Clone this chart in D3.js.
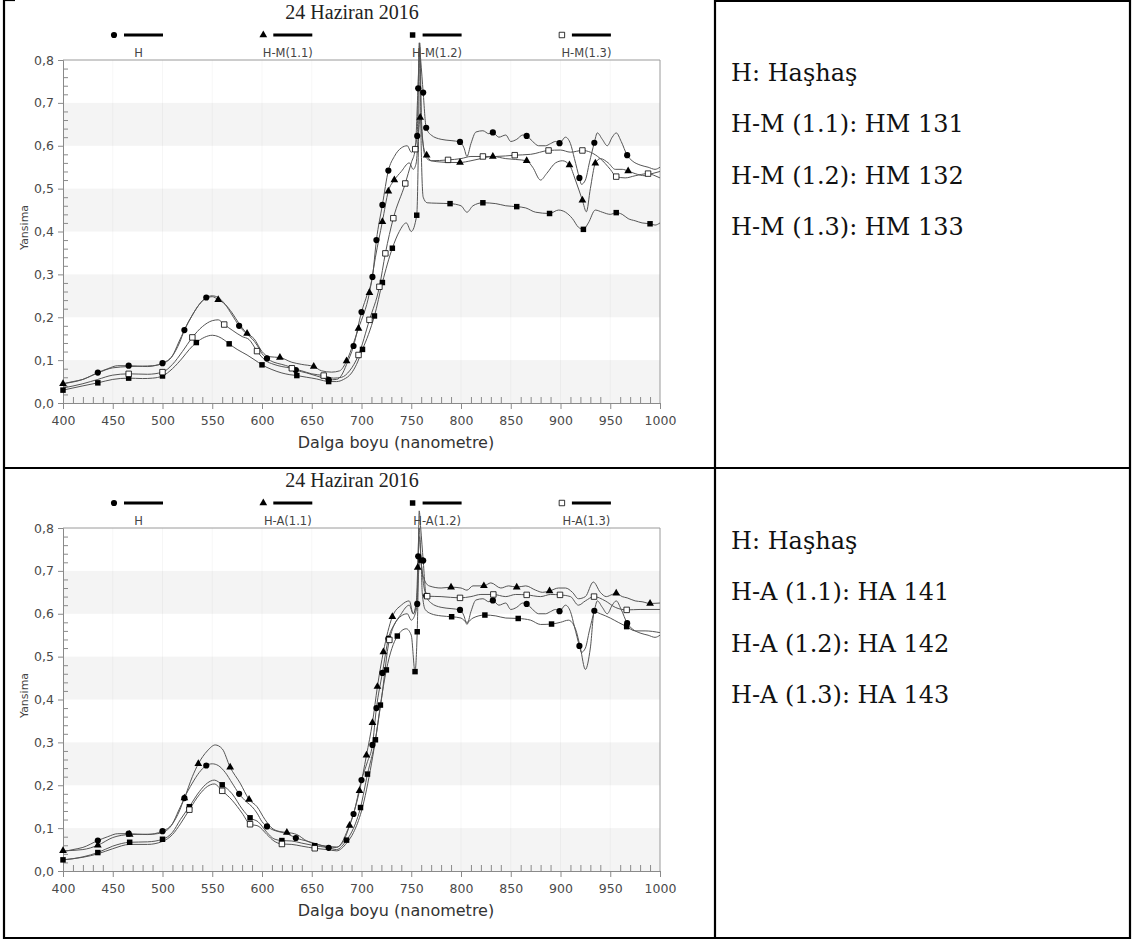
<!DOCTYPE html>
<html lang="tr">
<head>
<meta charset="UTF-8">
<title>24 Haziran 2016 - Yansima</title>
<style>
  body { margin: 0; background: #fff; }
  svg { display: block; }
</style>
</head>
<body>
<script src="https://cdn.jsdelivr.net/npm/d3@7"></script>
<div id="app"></div>
<script>
// ---- veri: [dalga boyu (nm), yansima] ----
const seriesH = [[400,0.045],[410,0.05],[420,0.055],[435,0.071],[445,0.08],[455,0.087],[466,0.087],[475,0.086],[485,0.085],[492,0.087],[500,0.093],[510,0.11],[517,0.14],[522,0.17],[530,0.205],[537,0.23],[544,0.246],[550,0.25],[556,0.246],[563,0.23],[570,0.205],[577,0.18],[585,0.16],[590,0.15],[595,0.135],[600,0.115],[605,0.104],[612,0.095],[620,0.09],[627,0.085],[634,0.077],[645,0.07],[655,0.063],[662,0.058],[667,0.054],[675,0.055],[680,0.065],[685,0.09],[692,0.133],[700,0.212],[706,0.255],[711,0.294],[715,0.38],[721,0.462],[727,0.542],[733,0.575],[740,0.595],[746,0.6],[750,0.585],[754,0.6],[756,0.623],[757,0.734],[758,0.84],[759.5,0.8],[762,0.724],[765,0.642],[770,0.625],[780,0.615],[790,0.612],[799,0.609],[803,0.595],[806,0.575],[810,0.605],[815,0.632],[822,0.635],[828,0.628],[832,0.631],[838,0.62],[845,0.625],[850,0.61],[856,0.615],[862,0.625],[866,0.623],[872,0.61],[878,0.6],[885,0.6],[890,0.605],[895,0.61],[899,0.606],[905,0.62],[910,0.605],[914,0.57],[919,0.525],[921,0.51],[925,0.52],[929,0.56],[934,0.607],[937,0.63],[942,0.615],[947,0.6],[952,0.62],[956,0.63],[961,0.61],[967,0.578],[972,0.565],[980,0.555],[988,0.55],[995,0.545],[1000,0.55]];
const marksH = [435,466,500,522,544,577,605,634,667,692,700,711,715,721,727,756,757,762,765,799,832,866,899,919,934,967];

const seriesHM11 = [[400,0.045],[420,0.055],[435,0.07],[450,0.082],[466,0.085],[480,0.086],[490,0.087],[500,0.092],[510,0.11],[516,0.14],[522,0.17],[530,0.205],[537,0.23],[544,0.245],[550,0.248],[556,0.241],[563,0.23],[570,0.21],[577,0.185],[585,0.162],[592,0.15],[600,0.12],[607,0.108],[618,0.106],[630,0.095],[640,0.09],[652,0.085],[660,0.075],[670,0.072],[678,0.075],[685,0.098],[692,0.14],[697,0.174],[708,0.257],[714,0.34],[721,0.423],[727,0.494],[733,0.52],[740,0.54],[748,0.56],[752,0.545],[755,0.56],[757,0.62],[759,0.666],[761,0.62],[763,0.59],[765.5,0.578],[770,0.565],[780,0.562],[790,0.561],[799,0.561],[810,0.565],[820,0.57],[832,0.575],[845,0.57],[855,0.568],[866,0.565],[872,0.55],[880,0.52],[886,0.535],[895,0.56],[902,0.565],[909,0.555],[915,0.52],[922,0.473],[926,0.446],[930,0.5],[935,0.559],[940,0.57],[948,0.56],[955,0.545],[962,0.545],[968,0.541],[975,0.535],[985,0.53],[992,0.535],[1000,0.54]];
const marksHM11 = [400,556,585,618,652,685,697,708,721,727,733,759,765.5,799,832,866,909,922,935,968];

const seriesHM12 = [[400,0.03],[410,0.035],[420,0.04],[435,0.047],[450,0.055],[466,0.058],[480,0.057],[490,0.058],[500,0.063],[510,0.08],[520,0.105],[527,0.125],[534,0.141],[542,0.153],[550,0.158],[556,0.155],[562,0.147],[567,0.138],[575,0.125],[585,0.112],[593,0.1],[600,0.089],[610,0.078],[620,0.07],[628,0.066],[635,0.064],[645,0.06],[655,0.056],[662,0.052],[667,0.05],[675,0.05],[682,0.055],[690,0.07],[695,0.09],[701,0.125],[707,0.16],[713,0.203],[721,0.281],[731,0.361],[738,0.4],[745,0.42],[750,0.4],[755.5,0.438],[757.5,0.65],[758.5,0.84],[760,0.6],[762,0.48],[766,0.467],[775,0.466],[789,0.465],[800,0.46],[806,0.445],[812,0.46],[822,0.467],[835,0.465],[845,0.46],[856,0.458],[865,0.455],[875,0.445],[889,0.442],[898,0.45],[905,0.445],[912,0.43],[918,0.41],[923,0.405],[928,0.42],[935,0.45],[942,0.445],[950,0.44],[956,0.444],[962,0.44],[968,0.43],[975,0.425],[982,0.42],[990,0.418],[995,0.415],[1000,0.42]];
const marksHM12 = [400,435,466,500,534,567,600,635,667,701,713,721,731,755.5,789,822,856,889,923,956,990];

const seriesHM13 = [[400,0.035],[420,0.045],[435,0.055],[450,0.065],[466,0.068],[485,0.067],[500,0.072],[510,0.09],[520,0.12],[530,0.153],[540,0.178],[550,0.192],[556,0.194],[562,0.183],[570,0.17],[580,0.155],[587,0.148],[595,0.121],[603,0.1],[612,0.09],[620,0.085],[630,0.081],[640,0.075],[650,0.068],[662,0.064],[672,0.058],[680,0.06],[688,0.075],[697,0.112],[708,0.194],[718,0.271],[724,0.349],[732,0.431],[744,0.512],[750,0.56],[754,0.592],[757,0.75],[758.5,0.83],[760.5,0.65],[764,0.575],[770,0.565],[787,0.567],[800,0.57],[810,0.575],[822,0.575],[835,0.575],[854,0.578],[870,0.58],[888,0.589],[900,0.59],[910,0.585],[922,0.589],[930,0.585],[940,0.57],[950,0.545],[956,0.528],[965,0.525],[975,0.53],[988,0.535],[995,0.53],[1000,0.525]];
const marksHM13 = [466,500,530,562,595,630,662,697,708,718,724,732,744,754,787,822,854,888,922,956,988];

const seriesHA11 = [[400,0.047],[420,0.05],[435,0.06],[450,0.078],[467,0.085],[490,0.086],[500,0.09],[510,0.11],[516,0.14],[522,0.17],[530,0.22],[536,0.25],[545,0.28],[553,0.294],[560,0.285],[568,0.242],[578,0.205],[587,0.167],[595,0.15],[603,0.12],[610,0.1],[618,0.092],[625,0.09],[635,0.085],[645,0.07],[655,0.062],[665,0.058],[675,0.056],[682,0.07],[688,0.106],[698,0.187],[705,0.27],[711,0.346],[716,0.43],[722,0.511],[731,0.593],[740,0.62],[748,0.63],[752,0.6],[755,0.62],[756.5,0.708],[758,0.8],[760,0.72],[763,0.68],[768,0.665],[780,0.66],[790,0.662],[800,0.66],[806,0.655],[812,0.665],[823,0.665],[830,0.672],[840,0.66],[848,0.665],[856,0.662],[865,0.665],[875,0.655],[882,0.65],[889,0.653],[898,0.66],[905,0.66],[912,0.65],[918,0.635],[925,0.64],[933,0.674],[940,0.65],[946,0.64],[952,0.645],[956,0.648],[962,0.64],[967,0.637],[975,0.63],[982,0.628],[990,0.624],[1000,0.625]];
const marksHA11 = [400,435,467,522,536,568,587,625,688,698,705,711,716,722,731,756.5,790,823,856,889,956,990];

const seriesHA12 = [[400,0.026],[420,0.033],[435,0.043],[450,0.058],[467,0.067],[485,0.068],[500,0.074],[510,0.09],[518,0.12],[527,0.15],[537,0.185],[545,0.205],[552,0.212],[560,0.201],[570,0.18],[580,0.145],[588,0.124],[596,0.115],[605,0.09],[612,0.075],[620,0.071],[630,0.07],[640,0.065],[653,0.059],[665,0.055],[675,0.05],[685,0.072],[692,0.1],[699,0.148],[706,0.226],[714,0.306],[719,0.387],[725,0.469],[736,0.548],[745,0.565],[750,0.55],[753.8,0.465],[756,0.558],[757.5,0.7],[759.8,0.725],[761,0.65],[764,0.61],[770,0.6],[780,0.595],[790.6,0.593],[800,0.59],[806,0.58],[812,0.59],[824,0.597],[835,0.595],[845,0.59],[857.5,0.589],[870,0.585],[880,0.575],[891,0.576],[900,0.58],[908,0.585],[915,0.565],[920,0.52],[925,0.47],[930,0.52],[934,0.605],[940,0.6],[950,0.59],[958,0.58],[966.5,0.57],[975,0.56],[985,0.56],[1000,0.556]];
const marksHA12 = [400,435,467,500,527,560,588,620,653,685,699,706,714,719,725,736,753.8,756,759.8,790.6,824,857.5,891,966.5];

const seriesHA13 = [[400,0.026],[420,0.032],[435,0.04],[450,0.052],[467,0.062],[485,0.062],[500,0.069],[510,0.085],[518,0.11],[527,0.143],[537,0.178],[545,0.197],[552,0.203],[560,0.187],[570,0.165],[580,0.135],[588,0.109],[596,0.105],[605,0.085],[612,0.07],[620,0.063],[630,0.062],[640,0.058],[653,0.053],[665,0.05],[675,0.047],[685,0.065],[692,0.09],[700,0.14],[710,0.25],[720,0.4],[728,0.539],[740,0.6],[748,0.62],[752,0.6],[756,0.65],[758,0.78],[760,0.72],[763,0.66],[766,0.641],[780,0.64],[799,0.637],[810,0.64],[820,0.645],[832.5,0.645],[845,0.64],[855,0.645],[866,0.644],[880,0.64],[890,0.645],[899.5,0.644],[910,0.64],[918,0.62],[925,0.63],[933.7,0.64],[945,0.63],[955,0.615],[966.5,0.609],[980,0.61],[1000,0.61]];
const marksHA13 = [527,560,588,620,653,728,766,799,832.5,866,899.5,933.7,966.5];

const xTicks = [400,450,500,550,600,650,700,750,800,850,900,950,1000];
const yTicks = [0,0.1,0.2,0.3,0.4,0.5,0.6,0.7,0.8];
const chartTitle = "24 Haziran 2016";
const legendTop = ["H","H-M(1.1)","H-M(1.2)","H-M(1.3)"];
const legendBottom = ["H","H-A(1.1)","H-A(1.2)","H-A(1.3)"];
const notesTop = ["H: Haşhaş","H-M (1.1): HM 131","H-M (1.2): HM 132","H-M (1.3): HM 133"];
const notesBottom = ["H: Haşhaş","H-A (1.1): HA 141","H-A (1.2): HA 142","H-A (1.3): HA 143"];

// ---- cizim ----
const W = 1134, H = 942;
const svg = d3.select("#app").append("svg")
  .attr("width", W).attr("height", H)
  .style("font-family", "'DejaVu Sans', sans-serif");

svg.append("rect").attr("width", W).attr("height", H).attr("fill", "#fff");

const rowH = 468;
const plotL = 63, plotR = 660, plotT = 60, plotB = 403;

const x = d3.scaleLinear().domain([400, 1000]).range([plotL, plotR]);
const y = d3.scaleLinear().domain([0, 0.8]).range([plotB, plotT]);

const symbols = [
  { type: d3.symbolCircle, size: 30, fill: "#000" },
  { type: d3.symbolTriangle, size: 26, fill: "#000" },
  { type: d3.symbolSquare, size: 30, fill: "#000" },
  { type: d3.symbolSquare, size: 30, fill: "#fff" }
];

const charts = [
  { dy: 0, legend: legendTop, notes: notesTop,
    series: [seriesH, seriesHM11, seriesHM12, seriesHM13],
    marks: [marksH, marksHM11, marksHM12, marksHM13] },
  { dy: rowH, legend: legendBottom, notes: notesBottom,
    series: [seriesH, seriesHA11, seriesHA12, seriesHA13],
    marks: [marksH, marksHA11, marksHA12, marksHA13] }
];

const line = d3.line().x(d => x(d[0])).y(d => y(d[1])).curve(d3.curveMonotoneX);
const fmtY = d => d3.format(".1f")(d).replace(".", ",");

charts.forEach(c => {
  const g = svg.append("g").attr("transform", `translate(0,${c.dy})`);

  // bantlar
  g.selectAll("rect.band")
    .data(yTicks.slice(0, -1).filter((d, i) => i % 2 === 0))
    .enter().append("rect")
    .attr("class", "band")
    .attr("x", plotL).attr("width", plotR - plotL)
    .attr("y", d => y(d + 0.1)).attr("height", d => y(d) - y(d + 0.1))
    .attr("fill", "#f4f4f4");

  // dikey silik izgara
  g.selectAll("line.vgrid")
    .data(xTicks.slice(1, -1))
    .enter().append("line")
    .attr("class", "vgrid")
    .attr("x1", d => x(d)).attr("x2", d => x(d))
    .attr("y1", plotT).attr("y2", plotB)
    .attr("stroke", "#000").attr("stroke-opacity", 0.035);

  // cerceve ust ve sag
  g.append("path")
    .attr("d", `M${plotL},${plotT}H${plotR}V${plotB}`)
    .attr("fill", "none").attr("stroke", "#9a9a9a").attr("stroke-width", 1);

  // eksenler
  const xMajor = g.append("g").attr("transform", `translate(0,${plotB})`)
    .call(d3.axisBottom(x).tickValues(xTicks).tickSize(6).tickSizeOuter(0).tickFormat(d3.format("d")));
  const xMinor = g.append("g").attr("transform", `translate(0,${plotB})`)
    .call(d3.axisTop(x).tickValues(d3.range(410, 1000, 10).filter(v => v % 50 !== 0)).tickSize(6).tickSizeOuter(0).tickFormat(""));
  const yMajor = g.append("g").attr("transform", `translate(${plotL},0)`)
    .call(d3.axisLeft(y).tickValues(yTicks).tickSize(5).tickSizeOuter(0).tickFormat(fmtY));
  const yMinor = g.append("g").attr("transform", `translate(${plotL},0)`)
    .call(d3.axisRight(y).tickValues(d3.range(1, 40).filter(v => v % 5 !== 0).map(v => v * 0.02)).tickSize(5).tickSizeOuter(0).tickFormat(""));

  [xMajor, xMinor, yMajor, yMinor].forEach(a => {
    a.select(".domain").attr("stroke", "#8a8a8a");
    a.selectAll(".tick line").attr("stroke", "#8a8a8a");
    a.selectAll("text").attr("fill", "#4a4a4a").style("font-size", "12.5px").style("font-family", "'DejaVu Sans', sans-serif");
  });
  xMajor.selectAll("text").attr("dy", "1.0em");
  yMajor.selectAll("text").attr("dx", "-1px");

  // eksen basliklari
  g.append("text")
    .attr("transform", `translate(28,${(plotT + plotB) / 2 - 4}) rotate(-90)`)
    .attr("text-anchor", "middle")
    .attr("fill", "#444").style("font-size", "11px")
    .text("Yansima");
  g.append("text")
    .attr("x", 396).attr("y", 448)
    .attr("text-anchor", "middle")
    .attr("fill", "#333").style("font-size", "16px")
    .text("Dalga boyu (nanometre)");

  // baslik
  g.append("text")
    .attr("x", 352).attr("y", 19)
    .attr("text-anchor", "middle")
    .style("font-family", "'Liberation Serif', 'Times New Roman', serif")
    .style("font-size", "20px").attr("fill", "#222")
    .text(chartTitle);

  // seriler
  c.series.forEach((s, i) => {
    g.append("path").datum(s)
      .attr("d", line)
      .attr("fill", "none").attr("stroke", "#555").attr("stroke-width", 1);
  });
  c.series.forEach((s, i) => {
    const lookup = new Map(s.map(d => [d[0], d[1]]));
    const sym = symbols[i];
    g.selectAll(null)
      .data(c.marks[i].filter(m => lookup.has(m)))
      .enter().append("path")
      .attr("transform", d => `translate(${x(d)},${y(lookup.get(d))})`)
      .attr("d", d3.symbol().type(sym.type).size(sym.size))
      .attr("fill", sym.fill).attr("stroke", "#000").attr("stroke-width", i === 3 ? 0.8 : 0);
  });

  // lejant
  const leg = g.selectAll("g.leg").data(c.legend).enter().append("g")
    .attr("class", "leg")
    .attr("transform", (d, i) => `translate(${114 + i * 149.3},35)`);
  leg.append("path")
    .attr("d", (d, i) => d3.symbol().type(symbols[i].type).size(symbols[i].size)())
    .attr("fill", (d, i) => symbols[i].fill)
    .attr("stroke", "#000").attr("stroke-width", (d, i) => i === 3 ? 0.8 : 0);
  leg.append("line")
    .attr("x1", 10).attr("x2", 49).attr("y1", 0).attr("y2", 0)
    .attr("stroke", "#000").attr("stroke-width", 3);
  leg.append("text")
    .attr("x", 24.5).attr("y", 22)
    .attr("text-anchor", "middle")
    .attr("fill", "#444").style("font-size", "11.5px")
    .text(d => d);

  // sag hucre notlari
  g.selectAll("text.note").data(c.notes).enter().append("text")
    .attr("class", "note")
    .attr("x", 731).attr("y", (d, i) => 80.5 + i * 51.5)
    .style("font-family", "'DejaVu Serif', serif")
    .style("font-size", "24px").attr("fill", "#111")
    .text(d => d);
});

// tablo cizgileri
const border = svg.append("g").attr("stroke", "#000").attr("stroke-width", 2.2).attr("fill", "none");
border.append("path").attr("d", "M4,0H15");
border.append("path").attr("d", "M715,1H1130");
border.append("path").attr("d", "M4,0V938H1130V0");
border.append("path").attr("d", "M4,468H1130");
border.append("path").attr("d", "M715,0V938");
</script>
</body>
</html>
